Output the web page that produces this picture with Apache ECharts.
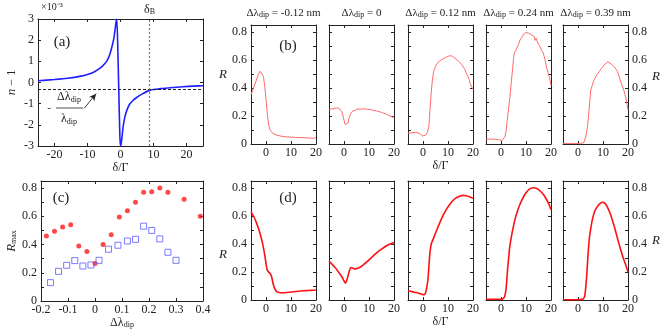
<!DOCTYPE html>
<html>
<head>
<meta charset="utf-8">
<title>Reflectance vs detuning</title>
<script src="https://cdn.jsdelivr.net/npm/echarts@6/dist/echarts.min.js"></script>
<style>html,body{margin:0;padding:0;background:#fff}#chart{width:663px;height:331px}</style>
</head>
<body>
<div id="chart"></div>
<script>
// (a) refractive index n-1, in units of 1e-3
var aDelta = [-25,-20,-16,-12,-10,-8,-6,-5,-4,-3.2,-2.5,-2,-1.6,-1.3,-1.1,-0.8,-0.5,-0.2,0,0.3,0.7,1.1,1.5,2,2.7,3.7,4.8,6.5,9,12,15,19,22,25];
var aIndex = [0.08,0.14,0.2,0.3,0.38,0.5,0.7,0.85,1.05,1.35,1.75,2.1,2.55,2.9,3.0,1.5,-0.5,-2.5,-3.0,-2.8,-2.2,-1.8,-1.52,-1.28,-1.04,-0.86,-0.72,-0.55,-0.36,-0.29,-0.25,-0.2,-0.17,-0.15];
var deltaB = 8.8;
var dipLevel = -0.3;

// (c) R_max vs dip shift
var cRedX = [-0.18,-0.15,-0.12,-0.09,-0.06,-0.03,0,0.03,0.06,0.09,0.12,0.15,0.18,0.21,0.24,0.27,0.33,0.39];
var cRedY = [0.46,0.494,0.525,0.54,0.39,0.35,0.265,0.40,0.47,0.595,0.64,0.70,0.77,0.773,0.80,0.77,0.72,0.60];
var cBlueX = [-0.165,-0.135,-0.105,-0.075,-0.045,-0.015,0.015,0.05,0.085,0.12,0.15,0.18,0.21,0.24,0.27,0.30];
var cBlueY = [0.13,0.21,0.253,0.286,0.248,0.255,0.288,0.367,0.395,0.425,0.437,0.53,0.50,0.44,0.345,0.288];

// column titles
var shifts = ['-0.12 nm', '0', '0.12 nm', '0.24 nm', '0.39 nm'];

// (b) measured R, [delta/Gamma, R]
var b1 = [[-6,0.35],[-5,0.40],[-4,0.45],[-3,0.50],[-2.3,0.52],[-1.6,0.51],[-1,0.48],[-0.5,0.41],[0,0.32],[0.5,0.22],[1,0.14],[1.6,0.10],[2.5,0.08],[4,0.065],[6,0.056],[8,0.051],[10,0.049],[12,0.047],[14,0.046],[16,0.044],[18,0.042],[19.2,0.040],[20,0.05]];
var b2 = [[-6,0.243],[-5,0.25],[-4,0.255],[-3,0.257],[-2,0.255],[-1.4,0.245],[-0.9,0.23],[-0.4,0.2],[0,0.17],[0.4,0.14],[0.8,0.128],[1.2,0.135],[1.6,0.15],[2.1,0.19],[2.6,0.215],[3.2,0.232],[4,0.242],[5,0.247],[6,0.25],[7,0.249],[8,0.251],[9,0.249],[10,0.247],[11,0.244],[12,0.24],[13,0.236],[14,0.231],[15,0.226],[16,0.219],[17,0.212],[17.8,0.206],[18.4,0.2],[18.8,0.188],[19.2,0.196],[19.6,0.19],[20,0.195]];
var b3 = [[-6,0.076],[-5,0.079],[-4,0.081],[-3,0.083],[-2.2,0.082],[-1.4,0.076],[-0.8,0.068],[-0.2,0.058],[0.4,0.052],[1,0.062],[1.6,0.078],[2,0.1],[2.3,0.124],[2.6,0.19],[2.9,0.27],[3.2,0.35],[3.6,0.43],[4,0.49],[4.4,0.525],[5,0.555],[5.6,0.576],[6.5,0.59],[7.5,0.603],[8.3,0.61],[9,0.617],[9.6,0.626],[10.2,0.628],[11,0.636],[11.5,0.63],[12.3,0.622],[12.8,0.612],[13.5,0.604],[14.2,0.592],[14.9,0.578],[15.5,0.568],[16.2,0.548],[16.8,0.53],[17.3,0.505],[17.6,0.512],[18,0.48],[18.4,0.462],[18.9,0.43],[19.3,0.44],[19.6,0.405],[20,0.39]];
var b4 = [[-6,0.034],[-5,0.035],[-4,0.035],[-3,0.034],[-2,0.034],[-1,0.032],[-0.3,0.026],[0.3,0.024],[0.9,0.032],[1.6,0.052],[2.1,0.1],[2.5,0.17],[3,0.25],[3.6,0.34],[4.1,0.44],[4.6,0.53],[5,0.61],[5.3,0.65],[5.8,0.665],[6.3,0.676],[7,0.71],[7.6,0.743],[8.3,0.762],[8.9,0.78],[9.5,0.79],[10,0.796],[10.5,0.8],[11,0.792],[11.6,0.786],[12.2,0.78],[12.8,0.776],[13.3,0.768],[13.6,0.74],[14,0.755],[14.6,0.728],[15.1,0.71],[15.6,0.695],[16.2,0.67],[16.9,0.65],[17.5,0.61],[18.2,0.55],[18.8,0.51],[19.3,0.48],[19.6,0.457],[20,0.42]];
var b5 = [[-6,0.003],[-4,0.003],[-2,0.003],[0,0.003],[1,0.004],[1.7,0.005],[2.3,0.01],[2.7,0.02],[3.1,0.05],[3.5,0.09],[3.8,0.124],[4.1,0.18],[4.4,0.243],[4.8,0.32],[5.1,0.386],[5.7,0.42],[6.4,0.457],[7.4,0.49],[8.4,0.517],[9.4,0.54],[10.4,0.564],[11.2,0.575],[12,0.588],[12.6,0.577],[13.2,0.572],[13.8,0.564],[14.3,0.555],[14.8,0.548],[15.3,0.532],[15.8,0.517],[16.5,0.48],[17.2,0.44],[17.8,0.41],[18.4,0.38],[19,0.338],[19.5,0.3],[20,0.243]];

// (d) calculated R
var d1 = [[-6,0.63],[-5,0.6],[-4,0.56],[-3,0.51],[-2,0.45],[-1.2,0.39],[-0.5,0.32],[0,0.26],[0.4,0.22],[1,0.2],[1.6,0.19],[2.2,0.17],[2.8,0.12],[3.3,0.09],[3.8,0.07],[4.5,0.058],[5.7,0.052],[7,0.052],[8.4,0.054],[10,0.057],[12,0.061],[14,0.064],[16,0.067],[18,0.069],[20,0.071]];
var d2 = [[-6,0.279],[-5,0.26],[-4,0.24],[-3,0.22],[-2,0.195],[-1,0.17],[-0.3,0.148],[0.2,0.13],[0.6,0.12],[1,0.135],[1.5,0.165],[2,0.2],[2.5,0.225],[2.9,0.232],[3.5,0.228],[4.2,0.222],[5,0.224],[6.2,0.232],[7.5,0.248],[9,0.27],[10.5,0.295],[12,0.32],[13.5,0.343],[15,0.363],[16.5,0.382],[18,0.397],[19,0.404],[20,0.41]];
var d3 = [[-6,0.066],[-5,0.062],[-4,0.058],[-3,0.054],[-2,0.05],[-1,0.045],[0,0.038],[0.5,0.038],[1,0.05],[1.5,0.09],[2,0.15],[2.4,0.25],[2.8,0.34],[3.3,0.4],[4.2,0.44],[5.5,0.5],[6.9,0.56],[8.2,0.61],[9.6,0.655],[11,0.69],[12.2,0.714],[13.5,0.732],[14.9,0.743],[16,0.747],[17.3,0.745],[18.6,0.737],[20,0.726]];
var d4 = [[-6,0.005],[-4,0.005],[-2,0.005],[0,0.005],[0.6,0.007],[1.2,0.016],[1.6,0.035],[2,0.076],[2.3,0.14],[2.6,0.21],[3,0.29],[3.5,0.38],[4.2,0.457],[4.9,0.52],[5.6,0.576],[6.6,0.635],[7.6,0.684],[8.6,0.722],[9.6,0.755],[10.6,0.778],[11.6,0.795],[12.4,0.8],[13.2,0.802],[14,0.798],[14.9,0.79],[15.9,0.775],[16.9,0.755],[17.9,0.727],[18.9,0.695],[19.5,0.67],[20,0.645]];
var d5 = [[-6,0.002],[-4,0.002],[-2,0.002],[0,0.002],[1,0.003],[1.7,0.005],[2.3,0.012],[2.7,0.03],[3.1,0.09],[3.5,0.18],[3.9,0.29],[4.2,0.37],[4.6,0.45],[5.1,0.51],[5.7,0.57],[6.4,0.62],[7.2,0.652],[8,0.674],[8.9,0.69],[9.8,0.698],[10.5,0.695],[11.1,0.684],[12,0.655],[13.1,0.607],[14.1,0.55],[15.1,0.488],[16.1,0.42],[17.1,0.357],[18.1,0.3],[19.1,0.25],[20,0.2]];

// ticks
var aXTicks = [-20, -10, 0, 10, 20];
var aYTicks = [-3, -2, -1, 0, 1, 2, 3];
var smallXTicks = [0, 10, 20];
var rTicks = [0, 0.1, 0.2, 0.3, 0.4, 0.5, 0.6, 0.7, 0.8];
var rLabels = [0, 0.2, 0.4, 0.6, 0.8];
var cXTicks = [-0.2, -0.1, 0, 0.1, 0.2, 0.3, 0.4];

var INK = '#222';
var FONT = '"Liberation Serif", serif';
var rich = {
  t: {fontFamily: FONT, fontSize: 12, color: INK},
  i: {fontFamily: FONT, fontSize: 13, fontStyle: 'italic', color: INK},
  s: {fontFamily: FONT, fontSize: 8, color: INK, padding: [5, 0, 0, 0]},
  tt: {fontFamily: FONT, fontSize: 11, color: INK},
  ts: {fontFamily: FONT, fontSize: 8, color: INK, padding: [4, 0, 0, 0]}
};

var grids = [], xAxes = [], yAxes = [], series = [];

function fmt(v) { return v === 0 ? '0' : String(+v.toFixed(2)); }

function panel(box, c) {
  var g = grids.length;
  grids.push({left: box[0], top: box[1], width: box[2], height: box[3]});
  var xi = xAxes.length, yi = yAxes.length;
  ['bottom', 'top'].forEach(function (pos) {
    var main = pos === 'bottom';
    xAxes.push({
      type: 'value', gridIndex: g, position: pos, min: c.x[0], max: c.x[1],
      axisLine: {onZero: false, lineStyle: {color: INK, width: 1}},
      axisTick: {inside: true, length: 3, customValues: c.xt, lineStyle: {color: INK}},
      axisLabel: {show: main, customValues: c.xl || c.xt, formatter: fmt, fontFamily: FONT, fontSize: 12, color: INK, margin: 3},
      splitLine: {show: false},
      name: (main ? c.xname : c.top) || '', nameLocation: 'middle', nameGap: main ? 15 : 6,
      nameTextStyle: {rich: rich}
    });
  });
  ['left', 'right'].forEach(function (pos) {
    var left = pos === 'left';
    var nm = left ? c.yname : c.ynameR;
    yAxes.push({
      type: 'value', gridIndex: g, position: pos, min: c.y[0], max: c.y[1],
      axisLine: {onZero: false, lineStyle: {color: INK, width: 1}},
      axisTick: {inside: true, length: 3, customValues: c.yt, lineStyle: {color: INK}},
      axisLabel: {show: left ? !!c.yl : !!c.yr, customValues: c.ylv || c.yt, formatter: fmt, fontFamily: FONT, fontSize: 12, color: INK, margin: 4},
      splitLine: {show: false},
      name: nm ? nm[0] : '', nameLocation: 'middle', nameGap: nm ? nm[1] : 0,
      nameRotate: nm ? nm[2] : 0,
      nameTextStyle: {rich: rich, padding: nm ? nm[3] : 0}
    });
  });
  return {x: xi, y: yi};
}

// (a)
var pa = panel([38, 19, 165, 127], {
  x: [-25, 25], xt: aXTicks, y: [-3, 3], yt: aYTicks, yl: true,
  xname: '{t|δ/Γ}', yname: ['{i|n}{t| − 1}', 20, 90, 0]
});
series.push({
  type: 'line', xAxisIndex: pa.x, yAxisIndex: pa.y, showSymbol: false, smooth: 0.2,
  data: aDelta.map(function (d, k) { return [d, aIndex[k]]; }),
  lineStyle: {color: '#1f1fff', width: 1.6}, clip: true,
  markLine: {
    silent: true, symbol: ['none', 'none'], animation: false,
    label: {show: false},
    data: [
      {yAxis: dipLevel, lineStyle: {type: [3, 2], color: '#222', width: 1.2}},
      {xAxis: deltaB, lineStyle: {type: [2, 2], color: '#777', width: 1.2},
        label: {show: true, position: 'end', distance: 3, formatter: '{t|δ}{s|B}', rich: rich}},
      [{coord: [-11, -1.22], symbol: 'none', lineStyle: {type: 'solid', color: '#222', width: 0.9}},
       {coord: [-7.4, -0.53], symbol: 'arrow', symbolSize: [5, 7]}]
    ]
  }
});

// (c)
var pc = panel([41, 181, 162, 120], {
  x: [-0.2, 0.4], xt: cXTicks, y: [0, 0.85], yt: rTicks, ylv: rLabels, yl: true,
  xname: '{t|Δλ}{s|dip}', yname: ['{i|R}{s|max}', 20, 90, 0]
});
series.push({
  type: 'scatter', xAxisIndex: pc.x, yAxisIndex: pc.y, symbol: 'circle', symbolSize: 5,
  data: cRedX.map(function (d, k) { return [d, cRedY[k]]; }),
  itemStyle: {color: '#ff1a1a'}
});
series.push({
  type: 'scatter', xAxisIndex: pc.x, yAxisIndex: pc.y, symbol: 'rect', symbolSize: 6,
  data: cBlueX.map(function (d, k) { return [d, cBlueY[k]]; }),
  itemStyle: {color: 'rgba(0,0,0,0)', borderColor: '#5a5aff', borderWidth: 1}
});

// (b) and (d)
var lefts = [251, 329, 408, 486, 563];
var bData = [b1, b2, b3, b4, b5];
var dData = [d1, d2, d3, d4, d5];
lefts.forEach(function (lx, k) {
  var first = k === 0, last = k === 4, mid = k === 2;
  var pb = panel([lx, 25, 65, 119], {
    x: [-6, 20], xt: smallXTicks, y: [0, 0.85], yt: rTicks, ylv: rLabels, yl: first, yr: last,
    top: '{tt|Δλ}{ts|dip}{tt| = ' + shifts[k] + '}',
    xname: mid ? '{t|δ/Γ}' : '',
    yname: first ? ['{i|R}', 24, 0, [0, 0, 20, 0]] : null,
    ynameR: last ? ['{i|R}', 24, 0, [0, 0, 16, 0]] : null
  });
  series.push({
    type: 'line', xAxisIndex: pb.x, yAxisIndex: pb.y, showSymbol: false,
    data: bData[k], lineStyle: {color: '#ff6a6a', width: 1}, clip: true
  });
  var pd = panel([lx, 181, 65, 119], {
    x: [-6, 20], xt: smallXTicks, y: [0, 0.85], yt: rTicks, ylv: rLabels, yl: first, yr: last,
    xname: mid ? '{t|δ/Γ}' : '',
    yname: first ? ['{i|R}', 24, 0, [28, 0, 0, 0]] : null,
    ynameR: last ? ['{i|R}', 24, 0, 0] : null
  });
  series.push({
    type: 'line', xAxisIndex: pd.x, yAxisIndex: pd.y, showSymbol: false, smooth: 0.2,
    data: dData[k], lineStyle: {color: '#ff1010', width: 1.6}, clip: true
  });
});

function txt(s, x, y, size) {
  return {type: 'text', x: x, y: y, silent: true,
    style: {text: s, fontFamily: FONT, fontSize: size, fill: INK, align: 'center', verticalAlign: 'middle', rich: rich}};
}

var graphics = [
  txt('(a)', 62, 42, 15),
  txt('(b)', 288, 46, 15),
  txt('(c)', 61, 198, 15),
  txt('(d)', 288, 198, 15),
  {type: 'text', x: 41, y: 2, silent: true, style: {text: '×10⁻³', fontFamily: FONT, fontSize: 10, fill: INK}},
  txt('-', 49, 108, 11),
  txt('{t|Δλ}{s|dip}', 69, 97, 11),
  {type: 'line', silent: true, shape: {x1: 56, y1: 108, x2: 83, y2: 108}, style: {stroke: INK, lineWidth: 0.8}},
  txt('{t|λ}{s|dip}', 69, 119, 11)
];

var chart = echarts.init(document.getElementById('chart'));
chart.setOption({
  animation: false,
  backgroundColor: '#fff',
  grid: grids,
  xAxis: xAxes,
  yAxis: yAxes,
  series: series,
  graphic: graphics
});
window.addEventListener('resize', function () { chart.resize(); });
</script>
</body>
</html>
